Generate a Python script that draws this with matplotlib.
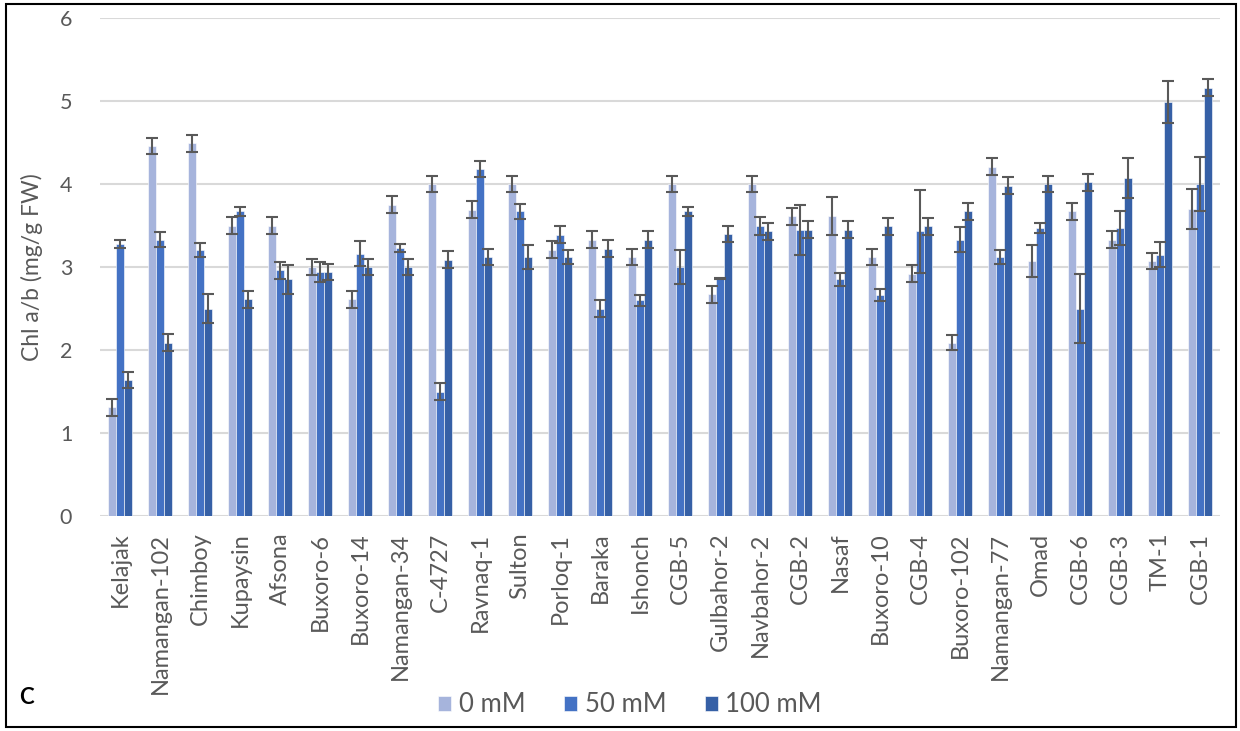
import numpy as np
import matplotlib.pyplot as plt
from matplotlib.patches import Rectangle

plt.rcParams['font.family'] = ['Lato', 'DejaVu Sans']

# cultivars, left to right
cultivars = ['Kelajak', 'Namangan-102', 'Chimboy', 'Kupaysin', 'Afsona', 'Buxoro-6',
             'Buxoro-14', 'Namangan-34', 'C-4727', 'Ravnaq-1', 'Sulton', 'Porloq-1',
             'Baraka', 'Ishonch', 'CGB-5', 'Gulbahor-2', 'Navbahor-2', 'CGB-2', 'Nasaf',
             'Buxoro-10', 'CGB-4', 'Buxoro-102', 'Namangan-77', 'Omad', 'CGB-6', 'CGB-3',
             'TM-1', 'CGB-1']

# Chl a/b, 0 mM NaCl
chl_0 = [1.31, 4.46, 4.49, 3.50, 3.50, 3.00, 2.61, 3.75, 4.00, 3.69, 4.00, 3.21,
         3.33, 3.12, 4.00, 2.67, 4.00, 3.61, 3.61, 3.12, 2.92, 2.09, 4.21, 3.07,
         3.67, 3.33, 3.07, 3.70]
err_0 = [0.10, 0.10, 0.10, 0.10, 0.10, 0.10, 0.10, 0.10, 0.10, 0.10, 0.10, 0.10,
         0.10, 0.10, 0.10, 0.10, 0.10, 0.10, 0.23, 0.10, 0.10, 0.095, 0.10, 0.19,
         0.10, 0.10, 0.10, 0.24]
# 50 mM
chl_50 = [3.28, 3.33, 3.20, 3.67, 2.96, 2.94, 3.16, 3.23, 1.50, 4.18, 3.67, 3.39,
          2.50, 2.60, 3.00, 2.86, 3.49, 3.45, 2.85, 2.66, 3.43, 3.33, 3.12, 3.47,
          2.50, 3.47, 3.15, 4.00]
err_50 = [0.05, 0.09, 0.085, 0.05, 0.10, 0.12, 0.15, 0.05, 0.10, 0.10, 0.09, 0.10,
          0.10, 0.065, 0.21, 0.01, 0.11, 0.30, 0.08, 0.07, 0.50, 0.15, 0.08, 0.055,
          0.42, 0.20, 0.15, 0.33]
# 100 mM
chl_100 = [1.64, 2.09, 2.50, 2.61, 2.85, 2.94, 3.00, 3.00, 3.09, 3.12, 3.12, 3.12,
           3.22, 3.33, 3.67, 3.40, 3.43, 3.45, 3.45, 3.49, 3.49, 3.67, 3.98, 4.00,
           4.02, 4.07, 4.99, 5.16]
err_100 = [0.10, 0.10, 0.18, 0.10, 0.17, 0.10, 0.10, 0.10, 0.10, 0.10, 0.15, 0.085,
           0.10, 0.10, 0.05, 0.10, 0.10, 0.10, 0.10, 0.10, 0.10, 0.10, 0.10, 0.10,
           0.10, 0.24, 0.25, 0.10]

series = ['0 mM', '50 mM', '100 mM']
colors = ['#A6B4DC', '#4472C4', '#3660A6']
grey = '#595959'

fig = plt.figure(figsize=(12.4, 7.31), dpi=100)
ax = fig.add_axes([100/1240, 215/731, 1120/1240, 498/731])

x = np.arange(len(cultivars))
w = 0.2
step = 0.212
for k, (vals, errs) in enumerate([(chl_0, err_0), (chl_50, err_50), (chl_100, err_100)]):
    ax.bar(x + (k-1)*step, vals, w, color=colors[k], edgecolor='white', linewidth=0.4,
           label=series[k], zorder=2)
    ax.errorbar(x + (k-1)*step, vals, yerr=errs, fmt='none', ecolor=grey,
                elinewidth=1.5, capsize=4.5, capthick=1.5, zorder=3)

ax.set_xlim(-0.5, len(cultivars)-0.5)
ax.set_ylim(0, 6)
ax.set_yticks(range(7))
ax.yaxis.grid(True, color='#D9D9D9', linewidth=1.5, zorder=0)
ax.set_axisbelow(True)
for s in ax.spines.values():
    s.set_visible(False)
ax.tick_params(axis='both', length=0, colors=grey)
ax.tick_params(axis='y', labelsize=15.5, pad=20)
ax.tick_params(axis='x', labelsize=17, pad=12)
ax.set_xticks(x)
ax.set_xticklabels(cultivars, rotation=90, color=grey)
ax.set_ylabel('Chl a/b (mg/g FW)', fontsize=16.5, color=grey, labelpad=12)

ax.legend(loc='center', bbox_to_anchor=(630/1240, 1-705/731), bbox_transform=fig.transFigure,
          ncol=3, frameon=False, fontsize=18.5, handlelength=0.5, handleheight=0.5,
          handletextpad=0.3, columnspacing=1.5, labelcolor=grey)

fig.text(19/1240, 1-697/731, 'C', fontsize=16, fontweight='bold', color='black', va='center')

fig.patches.append(Rectangle((6/1240, 4/731), 1230/1240, 723/731, transform=fig.transFigure,
                             fill=False, edgecolor='black', linewidth=1.5))

fig.savefig('out.png', dpi=100)
